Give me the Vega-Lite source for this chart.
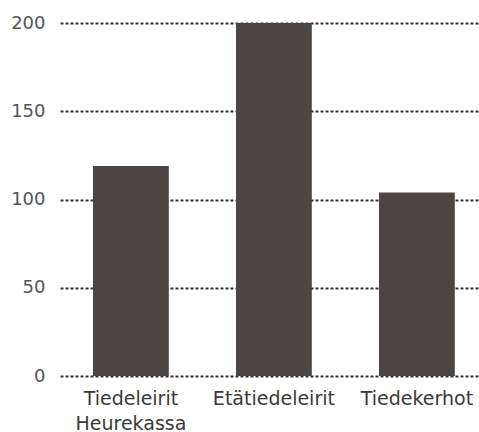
{
  "$schema": "https://vega.github.io/schema/vega-lite/v6.json",
  "autosize": "none",
  "width": 419,
  "height": 353,
  "padding": {"left": 60, "top": 23, "right": 0, "bottom": 56},
  "background": "white",
  "data": {
    "values": [
      {"kategoria": "Tiedeleirit Heurekassa", "arvo": 119},
      {"kategoria": "Etätiedeleirit", "arvo": 200},
      {"kategoria": "Tiedekerhot", "arvo": 104}
    ]
  },
  "config": {
    "view": {"stroke": null},
    "font": "DejaVu Sans"
  },
  "mark": {"type": "bar", "color": "#4b4543"},
  "encoding": {
    "x": {
      "field": "kategoria",
      "type": "nominal",
      "sort": null,
      "scale": {"paddingInner": 0.47, "paddingOuter": 0.2, "align": 0.577},
      "axis": {
        "title": null,
        "labelAngle": 0,
        "domain": false,
        "ticks": false,
        "labelFontSize": 19,
        "labelColor": "#3a3a3a",
        "labelPadding": 13,
        "labelLineHeight": 25,
        "labelExpr": "split(datum.label, ' ')"
      }
    },
    "y": {
      "field": "arvo",
      "type": "quantitative",
      "scale": {"domain": [0, 200], "nice": false},
      "axis": {
        "title": null,
        "values": [0, 50, 100, 150, 200],
        "domain": false,
        "ticks": false,
        "labelFontSize": 18,
        "labelColor": "#555555",
        "labelPadding": 15,
        "grid": true,
        "gridColor": "#333333",
        "gridDash": [3, 2],
        "gridWidth": 1.8,
        "gridOpacity": 1
      }
    }
  }
}
